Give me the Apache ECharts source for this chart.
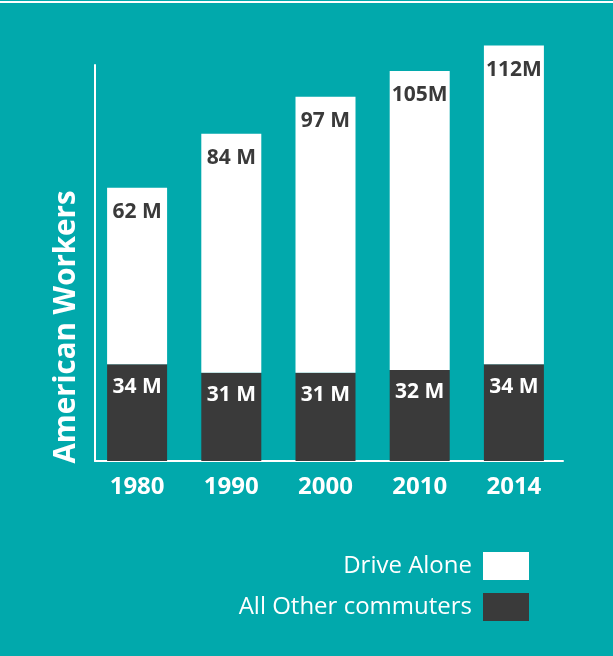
<!DOCTYPE html>
<html>
<head>
<meta charset="utf-8">
<script src="https://cdn.jsdelivr.net/npm/echarts@6/dist/echarts.min.js"></script>
<style>
html,body{margin:0;padding:0;background:#01A9AC;}
#c{width:613px;height:656px;}
</style>
</head>
<body>
<div id="c"></div>
<script>
var years = ['1980', '1990', '2000', '2010', '2014'];
var driveAlone = [62, 84, 97, 105, 112];
var otherCommuters = [34, 31, 31, 32, 34];
var driveLabels = ['62 M', '84 M', '97 M', '105M', '112M'];
var otherLabels = ['34 M', '31 M', '31 M', '32 M', '34 M'];
var yTitle = 'American Workers';

var FONT = '"Open Sans", "Noto Sans", sans-serif';
var chart = echarts.init(document.getElementById('c'), null, {renderer: 'canvas'});
chart.setOption({
  backgroundColor: '#01A9AC',
  animation: false,
  graphic: [
    {type: 'rect', shape: {x: 0, y: 1, width: 613, height: 2}, style: {fill: '#ffffff'}},
    {type: 'text', x: 67, y: 327, rotation: Math.PI / 2,
     style: {text: yTitle, fill: '#ffffff', font: 'bold 29.5px ' + FONT, align: 'center', verticalAlign: 'middle'}}
  ],
  legend: [
    {data: ['Drive Alone'], orient: 'vertical', right: 79, top: 547, align: 'right',
     icon: 'rect', itemWidth: 46, itemHeight: 28,
     textStyle: {color: '#ffffff', fontSize: 24, fontFamily: FONT, padding: [0, 6, 0, 0]}},
    {data: ['All Other commuters'], orient: 'vertical', right: 79, top: 588, align: 'right',
     icon: 'rect', itemWidth: 46, itemHeight: 28,
     textStyle: {color: '#ffffff', fontSize: 24, fontFamily: FONT, padding: [0, 6, 0, 0]}}
  ],
  grid: [
    {left: 90, right: 52, top: 34, bottom: 195},
    {left: 95, right: 50, top: 65, bottom: 195}
  ],
  xAxis: [
    {type: 'category', gridIndex: 0, data: years,
     axisLine: {show: false}, axisTick: {show: false},
     axisLabel: {color: '#ffffff', fontSize: 24, fontWeight: 'bold', fontFamily: FONT, margin: 14}},
    {type: 'value', gridIndex: 1, min: 0, max: 1,
     axisLine: {show: true, onZero: false, lineStyle: {color: '#ffffff', width: 2}},
     axisTick: {show: false}, axisLabel: {show: false}, splitLine: {show: false}}
  ],
  yAxis: [
    {type: 'value', gridIndex: 0, min: 0, max: 150,
     axisLine: {show: false}, axisTick: {show: false}, axisLabel: {show: false}, splitLine: {show: false}},
    {type: 'value', gridIndex: 1, min: 0, max: 1,
     axisLine: {show: true, onZero: false, lineStyle: {color: '#ffffff', width: 2}},
     axisTick: {show: false}, axisLabel: {show: false}, splitLine: {show: false}}
  ],
  series: [
    {name: 'All Other commuters', type: 'bar', stack: 'total', barWidth: 60,
     xAxisIndex: 0, yAxisIndex: 0,
     itemStyle: {color: '#3A3A3A'},
     label: {show: true, position: 'insideTop', distance: 12, color: '#ffffff',
             fontSize: 21, fontWeight: 'bold', fontFamily: FONT,
             formatter: function (p) { return otherLabels[p.dataIndex]; }},
     data: otherCommuters},
    {name: 'Drive Alone', type: 'bar', stack: 'total', barWidth: 60,
     xAxisIndex: 0, yAxisIndex: 0,
     itemStyle: {color: '#ffffff'},
     label: {show: true, position: 'insideTop', distance: 14, color: '#3A3A3A',
             fontSize: 21, fontWeight: 'bold', fontFamily: FONT,
             formatter: function (p) { return driveLabels[p.dataIndex]; }},
     data: driveAlone}
  ]
});
</script>
</body>
</html>
